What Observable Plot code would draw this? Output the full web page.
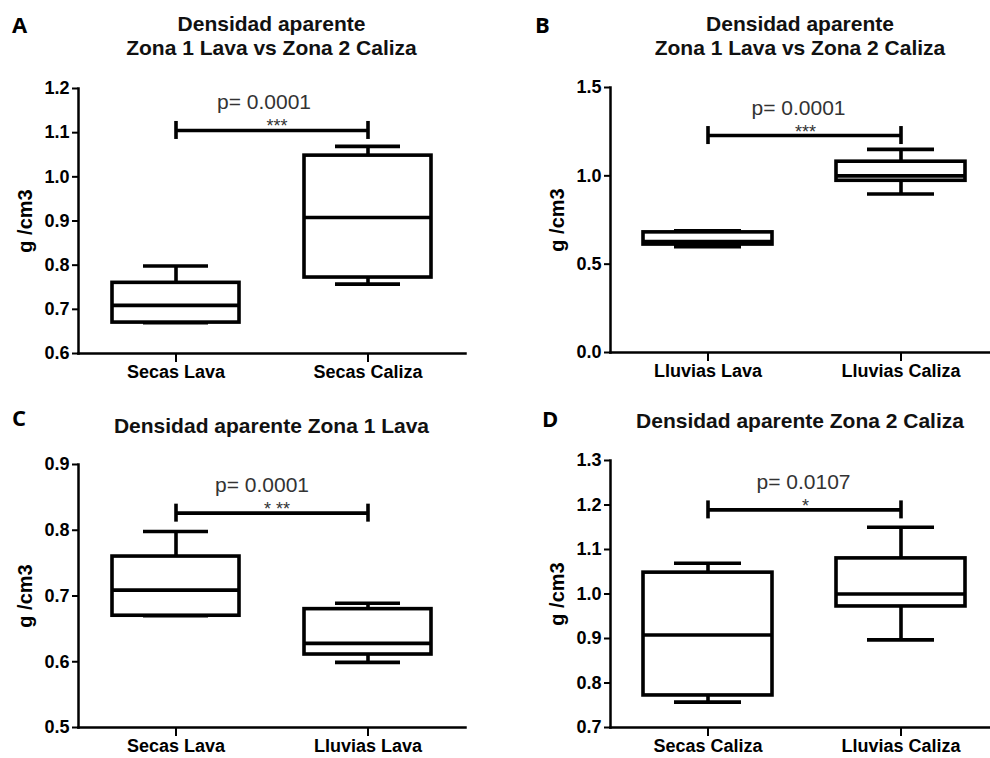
<!DOCTYPE html>
<html>
<head>
<meta charset="utf-8">
<script src="https://cdn.jsdelivr.net/npm/d3@7"></script>
<script src="https://cdn.jsdelivr.net/npm/@observablehq/plot@0.6"></script>
<style>
  html, body { margin: 0; padding: 0; background: #fff; }
  #wrap { position: relative; width: 990px; height: 758px; overflow: hidden; background: #fff; }
  .panel { position: absolute; }
  .panel svg { font-family: "Liberation Sans", Arial, sans-serif; font-weight: bold; overflow: visible; }
  .title { position: absolute; font-family: "Liberation Sans", Arial, sans-serif; font-weight: bold; font-size: 21px; line-height: 24px; text-align: center; color: #111; white-space: nowrap; }
  .letter { position: absolute; font-family: "Open Sans", "Liberation Sans", sans-serif; font-weight: bold; font-size: 22px; line-height: 22px; color: #000; }
</style>
</head>
<body>
<div id="wrap"></div>
<script>
// ---------- data ----------
const groupNames   = ["Secas Lava", "Secas Caliza", "Lluvias Lava", "Lluvias Caliza"];
const groupMin     = [0.670, 0.757, 0.599, 0.897];
const groupQ1      = [0.670, 0.772, 0.611, 0.972];
const groupMedian  = [0.709, 0.908, 0.628, 1.000];
const groupQ3      = [0.760, 1.048, 0.680, 1.080];
const groupMax     = [0.798, 1.069, 0.689, 1.150];

const panelLetters = ["A", "B", "C", "D"];
const panelTitles  = [
  ["Densidad aparente", "Zona 1 Lava vs Zona 2 Caliza"],
  ["Densidad aparente", "Zona 1 Lava vs Zona 2 Caliza"],
  ["Densidad aparente Zona 1 Lava"],
  ["Densidad aparente Zona 2 Caliza"]
];
const panelGroups  = [
  ["Secas Lava", "Secas Caliza"],
  ["Lluvias Lava", "Lluvias Caliza"],
  ["Secas Lava", "Lluvias Lava"],
  ["Secas Caliza", "Lluvias Caliza"]
];
const panelYDomain = [[0.6, 1.2], [0.0, 1.5], [0.5, 0.9], [0.7, 1.3]];
const panelYTicks  = [
  [0.6, 0.7, 0.8, 0.9, 1.0, 1.1, 1.2],
  [0.0, 0.5, 1.0, 1.5],
  [0.5, 0.6, 0.7, 0.8, 0.9],
  [0.7, 0.8, 0.9, 1.0, 1.1, 1.2, 1.3]
];
const panelPValues = ["p= 0.0001", "p= 0.0001", "p= 0.0001", "p= 0.0107"];
const panelStars   = ["***", "***", "* **", "*"];
const panelBracketY = [1.105, 1.228, 0.826, 1.189];
const yLabel = "g /cm3";

// ---------- layout (positions & styles only) ----------
const layout = [
  {left: 0,   top: 0,   width: 495, height: 380, mL: 78,  mR: 30, mT: 88, mB: 27, pi: 0.339, po: 0.177, align: 0.5,  titleTop: 12,  letterX: 12,  letterTop: 13, pdx: -8},
  {left: 495, top: 0,   width: 495, height: 380, mL: 115, mR: 0,  mT: 87, mB: 28, pi: 0.33,  po: 0.145, align: 0.57, titleTop: 12,  letterX: 40,  letterTop: 13, pdx: -2},
  {left: 0,   top: 380, width: 495, height: 378, mL: 78,  mR: 30, mT: 84, mB: 31, pi: 0.339, po: 0.177, align: 0.5,  titleTop: 34,  letterX: 12,  letterTop: 26, pdx: -10},
  {left: 495, top: 380, width: 495, height: 378, mL: 115, mR: 0,  mT: 80, mB: 31, pi: 0.33,  po: 0.145, align: 0.57, titleTop: 29,  letterX: 47,  letterTop: 27, pdx: 3}
];

const wrap = document.getElementById("wrap");
const SW = 3.6;

panelLetters.forEach((letter, i) => {
  const L = layout[i];
  const groups = panelGroups[i];
  const rows = groups.map(g => {
    const k = groupNames.indexOf(g);
    return {group: g, min: groupMin[k], q1: groupQ1[k], median: groupMedian[k], q3: groupQ3[k], max: groupMax[k]};
  });
  const bracket = [{g1: groups[0], g2: groups[1], y: panelBracketY[i]}];
  const capRows = groups.map(g => ({group: g, y: panelBracketY[i]}));

  const chart = Plot.plot({
    width: L.width,
    height: L.height,
    marginLeft: L.mL,
    marginRight: L.mR,
    marginTop: L.mT,
    marginBottom: L.mB,
    style: {background: "transparent", color: "#000"},
    x: {domain: groups, paddingInner: L.pi, paddingOuter: L.po, align: L.align, label: null},
    y: {domain: panelYDomain[i], label: null},
    marks: [
      Plot.frame({anchor: "left", stroke: "#000", strokeWidth: 2.5}),
      Plot.frame({anchor: "bottom", stroke: "#000", strokeWidth: 2.5}),
      Plot.axisY({ticks: panelYTicks[i], tickFormat: d3.format(".1f"), tickSize: 6, tickPadding: 3,
                  fontSize: 18, fontWeight: "bold", strokeWidth: 2, label: null}),
      Plot.axisX({tickSize: 9, tickPadding: 3, fontSize: 18, fontWeight: "bold", strokeWidth: 2, label: null}),
      Plot.text([yLabel], {text: d => d, frameAnchor: "left", rotate: -90, dx: -53,
                           textAnchor: "middle", lineAnchor: "middle", fontSize: 20, fontWeight: "bold", fill: "#000"}),
      // whiskers
      Plot.ruleX(rows, {x: "group", y1: "q3", y2: "max", stroke: "#000", strokeWidth: SW}),
      Plot.ruleX(rows, {x: "group", y1: "min", y2: "q1", stroke: "#000", strokeWidth: SW}),
      Plot.tickY(rows, {x: "group", y: "max", stroke: "#000", strokeWidth: SW, insetLeft: 31, insetRight: 31}),
      Plot.tickY(rows, {x: "group", y: "min", stroke: "#000", strokeWidth: SW, insetLeft: 31, insetRight: 31}),
      // boxes
      Plot.barY(rows, {x: "group", y1: "q1", y2: "q3", fill: "#fff", stroke: "#000", strokeWidth: SW}),
      Plot.tickY(rows, {x: "group", y: "median", stroke: "#000", strokeWidth: SW}),
      // significance bracket
      Plot.link(bracket, {x1: "g1", x2: "g2", y1: "y", y2: "y", stroke: "#000", strokeWidth: SW}),
      Plot.ruleX(capRows, {x: "group", y1: "y", y2: "y", insetTop: -9, insetBottom: -9, stroke: "#000", strokeWidth: SW}),
      Plot.text([panelPValues[i]], {text: d => d, y: [panelBracketY[i]], frameAnchor: "middle", lineAnchor: "bottom",
                                   dx: L.pdx, dy: -21, fontSize: 21, fontWeight: "normal", fill: "#333"}),
      Plot.text([panelStars[i]], {text: d => d, y: [panelBracketY[i]], frameAnchor: "middle", lineAnchor: "bottom",
                                  dx: 5, dy: 2, fontSize: 18, fontWeight: "normal", fill: "#333"})
    ]
  });

  const div = document.createElement("div");
  div.className = "panel";
  div.style.left = L.left + "px";
  div.style.top = L.top + "px";
  div.appendChild(chart);
  wrap.appendChild(div);

  const t = document.createElement("div");
  t.className = "title";
  t.style.left = (L.left + L.mL) + "px";
  t.style.width = (L.width - L.mL - L.mR) + "px";
  t.style.top = (L.top + L.titleTop) + "px";
  t.innerHTML = panelTitles[i].join("<br>");
  wrap.appendChild(t);

  const l = document.createElement("div");
  l.className = "letter";
  l.style.left = (L.left + L.letterX) + "px";
  l.style.top = (L.top + L.letterTop) + "px";
  l.textContent = letter;
  wrap.appendChild(l);
});
</script>
</body>
</html>
